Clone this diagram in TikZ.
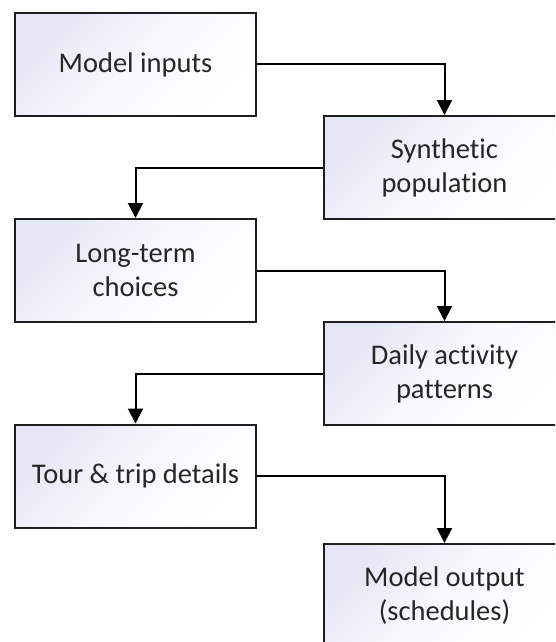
\documentclass[tikz,border=0pt]{standalone}
\usepackage{fontspec}
\setmainfont[Ligatures={NoCommon}]{Carlito}
\usetikzlibrary{arrows.meta}
\definecolor{boxtint}{RGB}{228,230,245}
\definecolor{edgegray}{RGB}{30,30,30}
\definecolor{textgray}{RGB}{38,38,38}
\tikzset{
  stage/.style={draw=edgegray, line width=2pt, minimum width=241pt, minimum height=103pt,
    inner sep=0pt, align=center, text=textgray,
    font=\fontsize{28.5}{34}\selectfont,
    top color=boxtint, bottom color=white, middle color=white!75!boxtint, shading angle=45},
  flow/.style={draw=black, line width=2pt, -{Triangle[width=15pt,length=15pt]}}
}
\begin{document}
\begin{tikzpicture}[x=1pt,y=-1pt]
  \useasboundingbox (0,0) rectangle (555,642);
  \clip (0,0) rectangle (555,642);
  \fill[white] (0,0) rectangle (555,642);
  \node[stage] (inputs)   at (135.5,64.5)  {Model inputs};
  \node[stage] (synth)    at (444.5,167.5) {Synthetic\\population};
  \node[stage] (longterm) at (135.5,270.5) {Long-term\\choices};
  \node[stage] (daily)    at (444.5,373.5) {Daily activity\\patterns};
  \node[stage] (tour)     at (135.5,476)   {Tour \& trip details};
  \node[stage] (output)   at (444.5,595.5) {Model output\\(schedules)};
  \draw[flow] (inputs.east) -| (synth.north);
  \draw[flow] (synth.west) -| (longterm.north);
  \draw[flow] (longterm.east) -| (daily.north);
  \draw[flow] (daily.west) -| (tour.north);
  \draw[flow] (tour.east) -| (output.north);
\end{tikzpicture}
\end{document}
